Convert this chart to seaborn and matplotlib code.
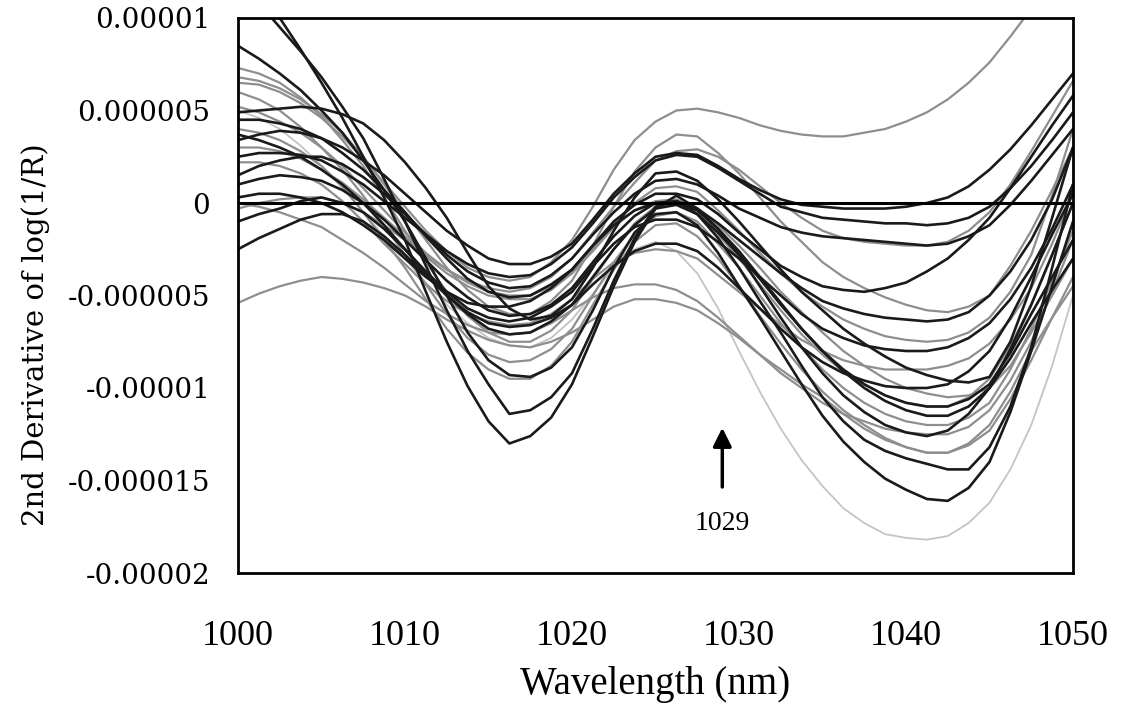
import numpy as np
import pandas as pd
import matplotlib
matplotlib.use("Agg")
import matplotlib.pyplot as plt
import seaborn as sns

# ---------------- data (second-derivative values in units of 1e-6) ----------------
wavelength = [1000, 1001.25, 1002.5, 1003.75, 1005, 1006.25, 1007.5, 1008.75, 1010, 1011.25,
              1012.5, 1013.75, 1015, 1016.25, 1017.5, 1018.75, 1020, 1021.25, 1022.5, 1023.75,
              1025, 1026.25, 1027.5, 1028.75, 1030, 1031.25, 1032.5, 1033.75, 1035, 1036.25,
              1037.5, 1038.75, 1040, 1041.25, 1042.5, 1043.75, 1045, 1046.25, 1047.5, 1048.75, 1050]

# dark spectra
d01 = [13.0, 11.4, 10.0, 8.3, 6.5, 4.6, 2.5, 0.3, -2.0, -4.8, -7.5, -9.9, -11.8, -13.0, -12.6, -11.6, -9.8, -7.2, -4.5, -2.1,
       -0.3, 0.4, -0.3, -1.4, -2.8, -4.5, -6.2, -7.8, -9.2, -10.4, -11.3, -12.0, -12.4, -12.6, -12.3, -11.4, -10.0, -7.9, -5.5, -2.8, 0.0]
d02 = [12.0, 10.8, 9.5, 8.2, 6.8, 5.2, 3.5, 1.3, -1.0, -3.4, -5.8, -8.0, -9.8, -11.4, -11.2, -10.5, -9.2, -6.8, -4.2, -1.9,
       -0.2, 0.1, -0.6, -1.9, -3.5, -5.3, -7.0, -8.8, -10.5, -11.8, -12.8, -13.4, -13.8, -14.1, -14.4, -14.4, -13.2, -11.0, -7.8, -3.5, 1.0]
d03 = [8.5, 7.8, 7.0, 6.1, 5.0, 3.8, 2.3, 0.7, -1.0, -3.0, -5.0, -7.0, -8.5, -9.3, -9.4, -8.9, -7.8, -5.8, -3.5, -1.6,
       -0.6, -0.5, -1.2, -2.7, -4.5, -6.2, -8.0, -9.8, -11.5, -12.9, -14.0, -14.9, -15.5, -16.0, -16.1, -15.4, -14.0, -11.3, -8.0, -4.5, -1.0]
d04 = [4.9, 5.0, 5.1, 5.2, 5.1, 4.8, 4.3, 3.4, 2.2, 0.8, -0.8, -2.7, -4.5, -5.7, -6.3, -6.1, -5.2, -3.5, -1.5, 0.3,
       1.6, 1.7, 1.2, 0.2, -1.0, -2.3, -3.6, -4.8, -5.8, -6.8, -7.6, -8.3, -8.9, -9.3, -9.6, -9.7, -9.4, -7.5, -4.5, -0.8, 3.0]
d05 = [3.4, 3.7, 3.9, 3.8, 3.5, 3.0, 2.3, 1.5, 0.5, -0.5, -1.5, -2.3, -3.0, -3.3, -3.3, -2.9, -2.2, -0.9, 0.5, 1.6,
       2.5, 2.7, 2.6, 2.0, 1.3, 0.7, 0.2, -0.1, -0.2, -0.3, -0.3, -0.3, -0.2, 0.0, 0.3, 0.9, 1.8, 2.9, 4.2, 5.6, 7.0]
d06 = [2.5, 2.7, 2.7, 2.6, 2.3, 1.7, 1.0, 0.1, -0.8, -1.7, -2.6, -3.3, -3.8, -4.0, -3.9, -3.3, -2.4, -1.1, 0.3, 1.4,
       2.3, 2.6, 2.5, 1.9, 1.2, 0.5, -0.2, -0.5, -0.8, -0.9, -1.0, -1.1, -1.1, -1.2, -1.1, -0.8, -0.2, 0.8, 2.0, 3.4, 4.9]
d07 = [1.5, 2.0, 2.3, 2.5, 2.5, 2.1, 1.4, 0.5, -0.6, -1.7, -2.8, -3.7, -4.3, -4.6, -4.5, -3.9, -3.0, -1.7, -0.5, 0.5,
       1.2, 1.3, 1.0, 0.4, -0.3, -0.8, -1.3, -1.6, -1.8, -1.9, -2.0, -2.1, -2.2, -2.3, -2.2, -1.8, -1.2, -0.1, 1.2, 2.6, 4.0]
d08 = [1.0, 1.3, 1.5, 1.4, 1.2, 0.7, 0.0, -0.9, -2.0, -3.1, -4.2, -5.1, -5.8, -6.1, -6.0, -5.5, -4.6, -3.2, -1.8, -0.7,
       0.0, 0.1, -0.3, -1.1, -2.0, -2.9, -3.8, -4.6, -5.3, -5.7, -6.0, -6.2, -6.3, -6.4, -6.3, -5.9, -5.0, -3.7, -2.0, 0.2, 3.0]
d09 = [-1.0, -0.6, -0.3, 0.1, 0.3, 0.0, -0.5, -1.4, -2.5, -3.7, -4.8, -5.7, -6.2, -6.4, -6.2, -5.6, -4.8, -3.4, -2.2, -1.3,
       -0.9, -0.9, -1.3, -2.1, -3.0, -4.0, -5.0, -6.0, -6.8, -7.3, -7.7, -7.9, -8.0, -8.0, -7.8, -7.3, -6.5, -5.2, -3.5, -1.4, 1.0]
d10 = [-2.5, -1.9, -1.4, -0.9, -0.6, -0.6, -1.0, -1.8, -2.8, -3.9, -5.0, -5.9, -6.5, -6.7, -6.6, -6.2, -5.5, -4.4, -3.4, -2.6,
       -2.2, -2.2, -2.6, -3.5, -4.6, -5.7, -6.8, -7.8, -8.6, -9.2, -9.6, -9.9, -10.0, -10.0, -9.8, -9.1, -8.0, -6.2, -4.0, -1.7, 0.5]
d11 = [3.7, 3.4, 3.0, 2.5, 1.8, 1.0, 0.0, -1.2, -2.5, -3.8, -5.0, -6.0, -6.8, -7.1, -7.0, -6.4, -5.5, -4.0, -2.5, -1.2,
       -0.3, -0.1, -0.6, -1.6, -2.8, -4.1, -5.5, -6.8, -8.0, -9.0, -9.8, -10.4, -10.8, -11.0, -11.0, -10.6, -9.8, -8.1, -6.0, -4.0, -2.0]
d12 = [4.5, 4.5, 4.3, 4.0, 3.5, 2.7, 1.8, 0.7, -0.5, -1.8, -3.0, -4.1, -4.8, -5.1, -5.0, -4.4, -3.6, -2.3, -1.0, -0.1,
       0.5, 0.5, 0.2, -0.6, -1.6, -2.5, -3.4, -4.0, -4.5, -4.7, -4.8, -4.6, -4.3, -3.7, -3.0, -2.0, -0.8, 0.8, 2.5, 4.2, 5.8]
d13 = [0.3, 0.5, 0.5, 0.3, 0.0, -0.5, -1.2, -2.0, -3.0, -4.0, -4.8, -5.4, -5.6, -5.6, -5.3, -4.6, -3.6, -2.3, -1.2, -0.4,
       0.0, 0.0, -0.4, -1.4, -2.6, -4.0, -5.4, -6.8, -8.0, -9.1, -10.0, -10.7, -11.2, -11.5, -11.5, -11.0, -10.0, -8.4, -6.5, -4.7, -3.0]

# grey spectra
g01 = [6.5, 6.4, 6.0, 5.4, 4.6, 3.6, 2.4, 1.1, -0.2, -1.5, -2.6, -3.5, -4.0, -4.2, -4.0, -3.2, -2.0, -0.2, 1.8, 3.4,
       4.4, 5.0, 5.1, 4.9, 4.6, 4.2, 3.9, 3.7, 3.6, 3.6, 3.8, 4.0, 4.4, 4.9, 5.6, 6.5, 7.6, 9.0, 10.5, 12.0, 13.5]
g03 = [7.3, 7.0, 6.5, 5.7, 4.7, 3.4, 2.0, 0.3, -1.5, -3.2, -4.8, -6.1, -7.0, -7.5, -7.5, -6.9, -5.8, -4.1, -2.5, -1.1,
       -0.2, 0.0, -0.6, -1.7, -3.0, -4.4, -5.8, -7.1, -8.2, -9.1, -9.8, -10.4, -10.8, -11.0, -11.0, -10.5, -9.5, -7.7, -5.5, -2.8, 0.0]
g04 = [6.8, 6.6, 6.2, 5.6, 4.8, 3.8, 2.5, 1.0, -0.5, -2.0, -3.5, -4.7, -5.6, -6.0, -6.0, -5.3, -4.2, -2.3, -0.2, 1.7,
       3.0, 3.7, 3.6, 2.7, 1.6, 0.3, -1.0, -2.1, -3.2, -4.0, -4.6, -5.1, -5.5, -5.8, -5.9, -5.6, -5.0, -3.4, -1.5, 0.7, 3.0]
g05 = [6.0, 5.6, 5.0, 4.1, 3.0, 1.8, 0.4, -1.2, -2.8, -4.4, -6.0, -7.3, -8.2, -8.6, -8.5, -7.9, -6.8, -5.0, -3.2, -1.7,
       -0.7, -0.5, -1.0, -2.2, -3.5, -5.0, -6.5, -7.8, -9.0, -10.0, -10.8, -11.4, -11.8, -12.0, -12.0, -11.6, -10.8, -9.0, -6.8, -4.2, -1.5]
g06 = [5.2, 4.9, 4.4, 3.8, 3.0, 2.0, 0.8, -0.4, -1.6, -2.7, -3.6, -4.3, -4.8, -5.0, -5.0, -4.5, -3.8, -2.6, -1.3, -0.4,
       0.1, 0.2, -0.3, -1.2, -2.3, -3.5, -4.8, -5.9, -7.0, -8.0, -8.8, -9.5, -10.0, -10.3, -10.5, -10.4, -10.0, -8.8, -7.0, -5.0, -3.0]
g07 = [-5.4, -4.9, -4.5, -4.2, -4.0, -4.1, -4.3, -4.6, -5.0, -5.6, -6.3, -6.9, -7.4, -7.7, -7.8, -7.5, -7.0, -6.3, -5.6, -5.2,
       -5.2, -5.4, -5.8, -6.5, -7.3, -8.2, -9.0, -9.8, -10.5, -11.4, -12.2, -12.8, -13.2, -13.5, -13.5, -13.1, -12.3, -10.6, -8.5, -6.2, -4.0]
g08 = [0.0, -0.2, -0.5, -0.9, -1.3, -2.0, -2.7, -3.5, -4.4, -5.3, -6.0, -6.6, -7.0, -7.1, -7.0, -6.5, -5.8, -5.1, -4.6, -4.4,
       -4.4, -4.7, -5.3, -6.2, -7.2, -8.2, -9.2, -10.0, -10.8, -11.4, -11.8, -12.2, -12.4, -12.5, -12.5, -12.1, -11.2, -9.6, -7.5, -4.8, -2.0]
g09 = [-0.3, 0.0, 0.2, 0.3, 0.3, 0.0, -0.5, -1.2, -2.0, -2.8, -3.6, -4.2, -4.6, -4.8, -4.6, -4.0, -3.0, -1.6, -0.2, 1.1,
       2.3, 2.8, 2.9, 2.5, 1.8, 0.9, 0.0, -0.8, -1.5, -1.9, -2.1, -2.2, -2.3, -2.3, -2.1, -1.5, -0.5, 1.0, 2.8, 4.7, 6.6]
g10 = [2.2, 2.2, 2.0, 1.6, 1.0, 0.1, -1.0, -2.2, -3.3, -4.4, -5.3, -6.0, -6.4, -6.6, -6.5, -6.0, -5.2, -4.1, -3.2, -2.7,
       -2.5, -2.6, -3.0, -3.9, -4.8, -5.7, -6.6, -7.4, -8.0, -8.5, -8.8, -9.0, -9.0, -9.0, -8.8, -8.4, -7.6, -6.3, -4.6, -2.2, 0.5]
g11 = [4.0, 3.8, 3.4, 2.8, 2.0, 0.9, -0.5, -2.0, -3.5, -5.2, -6.8, -8.1, -9.0, -9.5, -9.5, -8.8, -7.5, -5.5, -3.6, -2.1,
       -1.2, -1.1, -1.8, -3.0, -4.5, -6.1, -7.6, -9.0, -10.2, -11.2, -12.0, -12.7, -13.2, -13.5, -13.5, -13.0, -12.0, -10.2, -8.0, -6.2, -4.5]
g12 = [3.0, 3.0, 2.8, 2.4, 1.8, 1.1, 0.2, -0.8, -1.8, -2.9, -3.8, -4.5, -5.0, -5.2, -5.2, -4.7, -3.8, -2.5, -1.2, 0.0,
       0.8, 0.9, 0.6, -0.4, -1.5, -2.7, -3.8, -4.8, -5.6, -6.3, -6.8, -7.2, -7.4, -7.5, -7.4, -7.0, -6.2, -4.8, -2.8, 0.4, 4.0]

# light grey spectrum
g02 = [5.0, 4.6, 4.0, 3.1, 2.0, 0.8, -0.5, -1.8, -3.0, -4.3, -5.5, -6.5, -7.3, -7.7, -7.8, -7.3, -6.3, -4.9, -3.5, -2.5,
       -2.1, -2.6, -3.8, -5.7, -8.0, -10.2, -12.2, -13.9, -15.3, -16.5, -17.3, -17.9, -18.1, -18.2, -18.0, -17.3, -16.2, -14.4, -12.0, -8.8, -5.0]

ytick_values = [1e-5, 5e-6, 0, -5e-6, -1e-5, -1.5e-5, -2e-5]
ytick_labels = ["0.00001", "0.000005", "0", "-0.000005", "-0.00001", "-0.000015", "-0.00002"]
xtick_values = [1000, 1010, 1020, 1030, 1040, 1050]
xtick_labels = ["1000", "1010", "1020", "1030", "1040", "1050"]

dark_set = {"d01": d01, "d02": d02, "d03": d03, "d04": d04, "d05": d05, "d06": d06, "d07": d07,
            "d08": d08, "d09": d09, "d10": d10, "d11": d11, "d12": d12, "d13": d13}
grey_set = {"g01": g01, "g03": g03, "g04": g04, "g05": g05, "g06": g06, "g07": g07,
            "g08": g08, "g09": g09, "g10": g10, "g11": g11, "g12": g12}
light_set = {"g02": g02}


def to_long(curves):
    rows = []
    for name, vals in curves.items():
        assert len(vals) == len(wavelength), name
        for w, v in zip(wavelength, vals):
            rows.append({"wavelength": w, "value": v * 1e-6, "curve": name})
    return pd.DataFrame(rows)


df_dark = to_long(dark_set)
df_grey = to_long(grey_set)
df_light = to_long(light_set)

# ---------------- style ----------------
sns.set_theme(style="white")
plt.rcParams["font.family"] = ["DejaVu Serif", "DejaVu Sans"]
plt.rcParams["lines.solid_joinstyle"] = "round"
plt.rcParams["text.color"] = "black"
plt.rcParams["axes.labelcolor"] = "black"

fig = plt.figure(figsize=(11.21, 7.04), dpi=100)
ax = fig.add_axes([238 / 1121, 1 - 573 / 704, (1073 - 238) / 1121, (573 - 18) / 704])

sns.lineplot(data=df_light, x="wavelength", y="value", units="curve", estimator=None,
             color="#c4c4c4", linewidth=1.3, ax=ax, legend=False)
sns.lineplot(data=df_grey, x="wavelength", y="value", units="curve", estimator=None,
             color="#8e8e8e", linewidth=1.6, ax=ax, legend=False)
sns.lineplot(data=df_dark, x="wavelength", y="value", units="curve", estimator=None,
             color="#1a1a1a", linewidth=1.9, ax=ax, legend=False)

ax.axhline(0, color="black", linewidth=2.2)

ax.set_xlim(1000, 1050)
ax.set_ylim(-2e-5, 1e-5)

ax.set_xticks(xtick_values)
ax.set_xticklabels(xtick_labels, fontfamily="Liberation Serif", fontsize=26)
ax.set_yticks(ytick_values)
ax.set_yticklabels(ytick_labels, fontfamily="DejaVu Serif", fontsize=20)

ax.tick_params(axis="x", direction="in", length=7, width=1, pad=34, colors="black")
ax.tick_params(axis="y", direction="in", length=8, width=1, pad=20, colors="black")

for s in ax.spines.values():
    s.set_color("black")
    s.set_linewidth(2)
    s.set_visible(True)

ax.set_xlabel("Wavelength (nm)", fontfamily="Liberation Serif", fontsize=28, labelpad=9, color="black")
ax.set_ylabel("2nd Derivative of log(1/R)", fontfamily="DejaVu Serif", fontsize=21, color="black")
ax.yaxis.set_label_coords(-0.225, 0.43)

ax.annotate("", xy=(1029, -1.2e-5), xytext=(1029, -1.55e-5),
            arrowprops=dict(arrowstyle="-|>", color="black", lw=2.5, mutation_scale=28))
ax.text(1029, -1.73e-5, "1029", ha="center", va="center", color="black",
        fontfamily="Liberation Serif", fontsize=20)

fig.savefig("out.png", dpi=100)
